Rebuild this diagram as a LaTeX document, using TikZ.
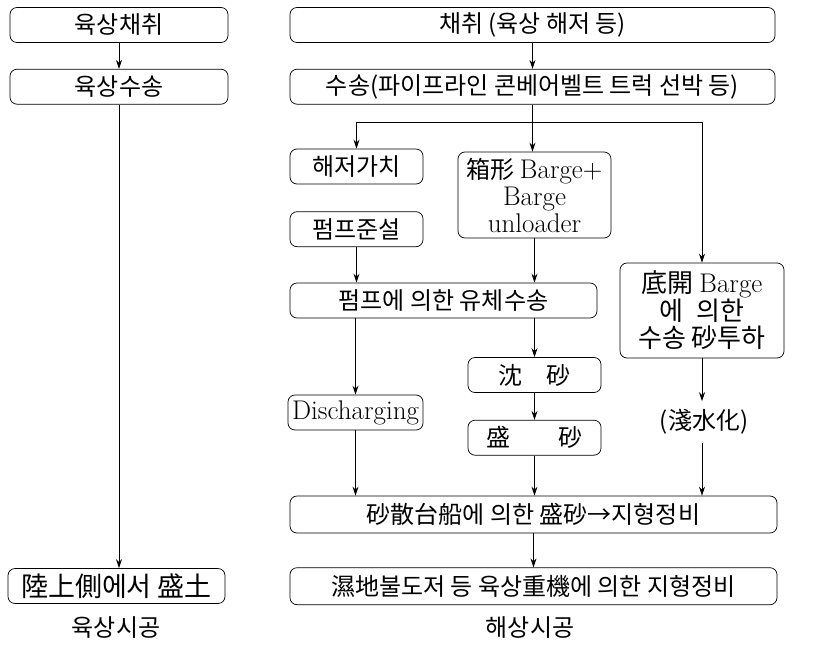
\documentclass[tikz,border=0pt]{standalone}
\usepackage{fontspec}
\newfontfamily\kr{Noto Sans CJK KR}
\usetikzlibrary{positioning,arrows.meta}

\newcommand\en[1]{{\rmfamily\fontsize{27}{27}\selectfont #1}}
\newcommand\enwide[1]{{\rmfamily\fontsize{27}{27}\selectfont\addfontfeature{LetterSpace=18}#1}}
\tikzset{
	box/.style={draw, rounded corners=7pt, minimum height=35pt, inner sep=1pt, align=center, font=\kr\fontsize{24}{27}\selectfont},
	plain/.style={font=\kr\fontsize{24}{27}\selectfont},
	line/.style={-{Stealth[length=9pt,width=6pt]}}
}

\begin{document}
\begin{tikzpicture}
[x=1pt, y=-1pt, node distance=26pt, line width=0.7pt]
\useasboundingbox (0,0) rectangle (830,645);

% land side
\node (landmine) [box, minimum width=218pt] at (119,25) {육상채취};
\node (landtrans) [box, minimum width=218pt, below=of landmine] {육상수송};
\node (landfill) [box, minimum width=217pt, font=\kr\fontsize{27}{27}\selectfont] at (116.5,586) {陸上側에서 盛土};
\node (landlabel) [plain] at (116,628) {육상시공};

% sea side
\node (mine) [box, minimum width=485pt] at (532.5,25) {채취 (육상 해저 등)};
\node (trans) [box, minimum width=485pt, below=of mine] {수송(파이프라인 콘베어벨트 트럭 선박 등)};
\coordinate (split) at (trans.south |- 0,122);
\node (digup) [box, minimum width=133pt] at (356.5,166.5) {해저가치};
\node (pumpdr) [box, minimum width=133pt, below=27pt of digup] {펌프준설};
\node (barge) [box, minimum width=153pt, minimum height=86pt] at (534.5,195) {箱形 \en{Barge+}\\\en{Barge}\\\en{unloader}};
\node (fluid) [box, minimum width=307pt] at (443.5,300.5) {펌프에 의한 유체수송};
\node (dump) [box, minimum width=164pt, minimum height=95pt, font=\kr\fontsize{26}{27}\selectfont] at (702,310.5) {底開 \enwide{Barge}\\에\enspace 의한\\수송 砂투하};
\node (disch) [box, minimum width=135pt] at (355.5,412.5) {\en{Discharging}};
\node (settle) [box, minimum width=133pt] at (534.5,375) {沈\quad 砂};
\node (fill) [box, minimum width=133pt, below=27pt of settle] {盛\qquad 砂};
\node (shallow) [plain, inner sep=8pt] at (704,422) {(淺水化)};
\node (spread) [box, minimum width=487pt, minimum height=37pt] at (533.5,514.5) {砂散台船에 의한 盛砂→지형정비};
\node (level) [box, minimum width=487pt, minimum height=37pt, below=34pt of spread] {濕地불도저 등 육상重機에 의한 지형정비};
\node (sealabel) [plain] at (530,628) {해상시공};

% connectors
\draw[line] (landmine) -- (landtrans);
\draw[line] (landtrans) -- (landtrans |- landfill.north);
\draw[line] (mine) -- (trans);
\draw (trans) -- (split);
\draw[line] (split) -| (digup);
\draw[line] (split) -- (split |- barge.north);
\draw[line] (split) -| (dump);
\draw[line] (pumpdr) -- (pumpdr |- fluid.north);
\draw[line] (barge) -- (barge |- fluid.north);
\draw[line] (fluid.south -| disch) -- (disch);
\draw[line] (fluid.south -| settle) -- (settle);
\draw[line] (settle) -- (fill);
\draw[line] (dump) -- (dump |- shallow.north);
\draw[line] (dump |- shallow.south) -- (dump |- spread.north);
\draw[line] (disch) -- (disch |- spread.north);
\draw[line] (fill) -- (fill |- spread.north);
\draw[line] (spread) -- (level);
\end{tikzpicture}
\end{document}
